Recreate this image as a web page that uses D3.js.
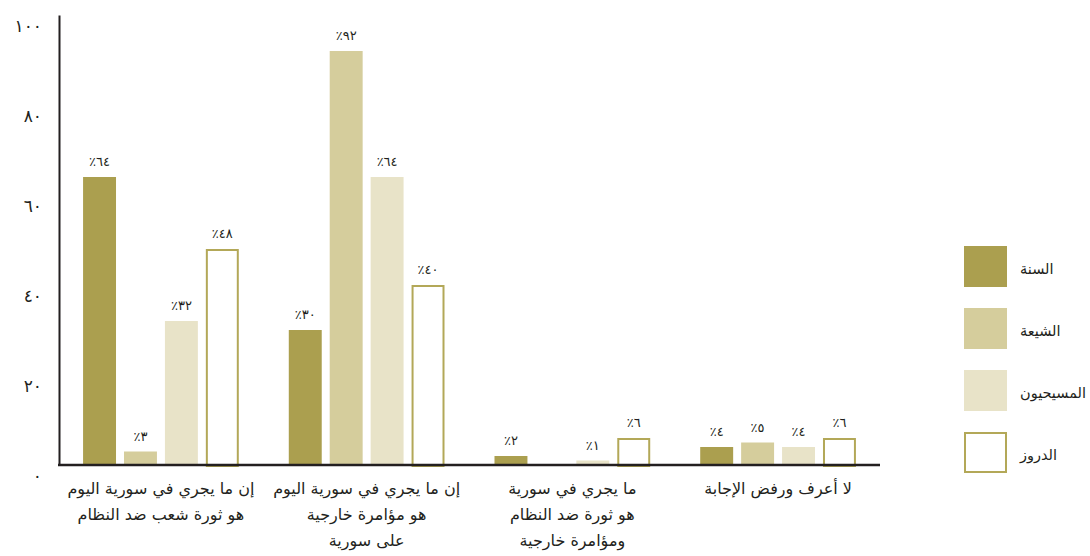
<!DOCTYPE html>
<html><head><meta charset="utf-8">
<script src="https://cdn.jsdelivr.net/npm/d3@7"></script>
<style>
body{margin:0;background:#fff;}
svg{display:block;}
text{font-family:"DejaVu Sans",sans-serif;fill:#231f20;}
</style></head>
<body><svg id="c" width="1090" height="556"></svg>
<script>
const categories = [
  ["إن ما يجري في سورية اليوم","هو ثورة شعب ضد النظام"],
  ["إن ما يجري في سورية اليوم","هو مؤامرة خارجية","على سورية"],
  ["ما يجري في سورية","هو ثورة ضد النظام","ومؤامرة خارجية"],
  ["لا أعرف ورفض الإجابة"]
];
const seriesNames = ["السنة","الشيعة","المسيحيون","الدروز"];
const sunni = [64, 30, 2, 4];
const shia = [3, 92, 0, 5];
const christians = [32, 64, 1, 4];
const druze = [48, 40, 6, 6];
const yTicks = [0, 20, 40, 60, 80, 100];

const series = [sunni, shia, christians, druze];
const fills = ["#ab9f4f", "#d5cd9c", "#e8e3c8", "#ffffff"];
const outline = "#b3a858";
const ink = "#231f20";
const ar = n => String(n).replace(/\d/g, d => "٠١٢٣٤٥٦٧٨٩"[d]);

const svg = d3.select("#c");
const x0 = d3.scaleBand().domain(d3.range(categories.length)).range([59, 880]).paddingInner(0.243).paddingOuter(0.117);
const x1 = d3.scaleBand().domain(d3.range(series.length)).range([0, x0.bandwidth()]).paddingInner(0.195);
const y = d3.scaleLinear().domain([0, 100]).range([465, 15]);

// bars
categories.forEach((c, gi) => {
  const g = svg.append("g").attr("transform", `translate(${x0(gi)},0)`);
  series.forEach((s, si) => {
    const v = s[gi];
    if (!v) return;
    const bx = x1(si), bw = x1.bandwidth();
    if (si === 3) {
      g.append("rect").attr("x", bx + 1).attr("y", y(v) + 1).attr("width", bw - 2).attr("height", y(0) - y(v))
        .attr("fill", "#fff").attr("stroke", outline).attr("stroke-width", 2);
    } else {
      g.append("rect").attr("x", bx).attr("y", y(v)).attr("width", bw).attr("height", y(0) - y(v)).attr("fill", fills[si]);
    }
    g.append("text").attr("x", bx + bw / 2).attr("y", y(v) - 11).attr("text-anchor", "middle")
      .attr("font-size", 13).text("٪" + ar(v));
  });
  c.forEach((ln, li) => {
    svg.append("text").attr("x", x0(gi) + x0.bandwidth() / 2).attr("y", 494 + li * 26)
      .attr("text-anchor", "middle").attr("font-size", 16).text(ln);
  });
});

// axes
const yAxis = d3.axisLeft(y).tickValues(yTicks).tickSize(0).tickSizeOuter(0).tickPadding(17).tickFormat(ar);
const ya = svg.append("g").attr("transform", "translate(59,0)").call(yAxis);
ya.select(".domain").attr("stroke", ink).attr("stroke-width", 2);
ya.selectAll("text").attr("font-size", 17).attr("font-family", "DejaVu Sans").attr("fill", ink).attr("dy", "0.95em");
svg.append("line").attr("x1", 58).attr("x2", 880).attr("y1", y(0)).attr("y2", y(0)).attr("stroke", ink).attr("stroke-width", 2.5);

// legend
seriesNames.forEach((n, i) => {
  const ly = 246 + i * 62;
  if (i === 3) {
    svg.append("rect").attr("x", 965).attr("y", ly + 1).attr("width", 41).attr("height", 39)
      .attr("fill", "#fff").attr("stroke", outline).attr("stroke-width", 2);
  } else {
    svg.append("rect").attr("x", 964).attr("y", ly).attr("width", 43).attr("height", 41).attr("fill", fills[i]);
  }
  svg.append("text").attr("x", 1020).attr("y", ly + 28).attr("font-size", 14.5).text(n);
});
</script></body></html>
